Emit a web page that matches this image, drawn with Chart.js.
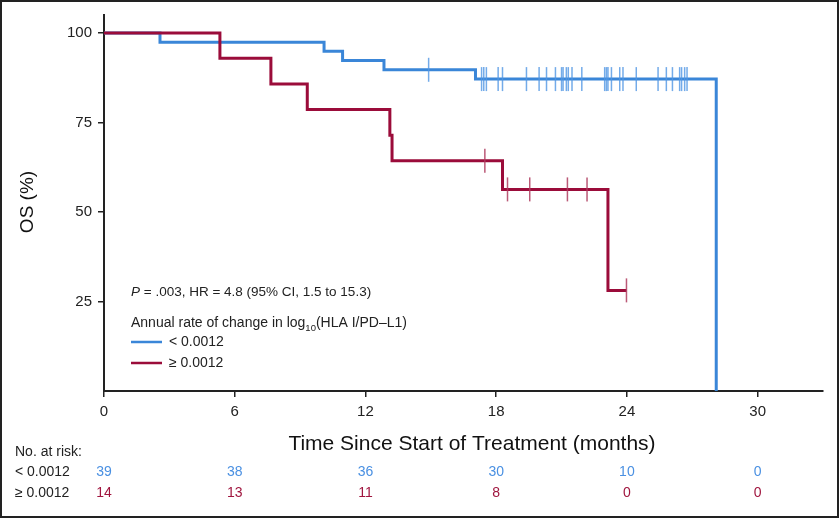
<!DOCTYPE html>
<html>
<head>
<meta charset="utf-8">
<script src="https://cdn.jsdelivr.net/npm/chart.js@4.4.0/dist/chart.umd.min.js"></script>
<style>
  html, body { margin: 0; padding: 0; background: #fff; }
  canvas { display: block; }
</style>
</head>
<body>
<canvas id="km-chart" width="839" height="518"></canvas>
<script>
// Kaplan-Meier steps: event time (months) and OS (%) after that event
const lowTimes = [0, 2.57, 10.1, 10.95, 12.85, 17.05, 28.1];
const lowSurv = [100, 97.4, 94.9, 92.3, 89.7, 87.1, 0];
const lowCensor = [14.9, 17.33, 17.43, 17.55, 18.09, 18.29, 19.39, 19.97, 20.31, 20.72,
  21.0, 21.07, 21.22, 21.31, 21.48, 21.93, 22.98, 23.06, 23.13, 23.29, 23.67, 23.82,
  24.43, 25.43, 25.81, 26.09, 26.42, 26.51, 26.65, 26.76];

const highTimes = [0, 5.32, 7.66, 9.33, 13.12, 13.22, 18.29, 23.13, 23.98];
const highSurv = [100, 92.9, 85.7, 78.6, 71.4, 64.3, 56.3, 28.1, 28.1];
const highCensor = [17.48, 18.52, 19.54, 21.27, 22.17, 23.98];

// number at risk table
const riskTimes = [0, 6, 12, 18, 24, 30];
const lowRisk = [39, 38, 36, 30, 10, 0];
const highRisk = [14, 13, 11, 8, 0, 0];

const xTicks = [0, 6, 12, 18, 24, 30];
const yTicks = [25, 50, 75, 100];

const BLUE = "#3a86d8";
const RED = "#9b0c3a";
const FONT = "'Liberation Sans', Arial, Helvetica, sans-serif";

// level of a step curve at time t (used to put censor ticks on the curve)
function levelAt(times, surv, t) {
  let v = surv[0];
  for (let i = 0; i < times.length; i++) {
    if (times[i] <= t) v = surv[i];
  }
  return v;
}

const toPoints = (times, surv) => times.map((t, i) => ({ x: t, y: surv[i] }));
const censorPoints = (times, surv, cens) =>
  cens.map((t) => ({ x: t, y: levelAt(times, surv, t) }));

const extras = {
  id: "extras",
  beforeDraw(chart) {
    const ctx = chart.ctx;
    ctx.save();
    ctx.fillStyle = "#fff";
    ctx.fillRect(0, 0, chart.width, chart.height);
    ctx.restore();
  },
  afterDraw(chart) {
    const ctx = chart.ctx;
    const xs = chart.scales.x;
    ctx.save();

    // axis titles
    ctx.fillStyle = "#111";
    ctx.textAlign = "center";
    ctx.textBaseline = "alphabetic";
    ctx.font = "21px " + FONT;
    ctx.fillText("Time Since Start of Treatment (months)", 472, 450);
    ctx.textBaseline = "middle";
    ctx.save();
    ctx.translate(28, 202);
    ctx.rotate(-Math.PI / 2);
    ctx.font = "19px " + FONT;
    ctx.fillText("OS (%)", 0, 0);
    ctx.restore();

    // stats text
    ctx.textAlign = "left";
    ctx.fillStyle = "#222";
    let x = 131;
    ctx.font = "italic 13.5px " + FONT;
    ctx.fillText("P", x, 292);
    x += ctx.measureText("P").width;
    ctx.font = "13.5px " + FONT;
    ctx.fillText(" = .003, HR = 4.8 (95% CI, 1.5 to 15.3)", x, 292);

    // legend
    x = 131;
    ctx.font = "14px " + FONT;
    const t1 = "Annual rate of change in log";
    ctx.fillText(t1, x, 323);
    x += ctx.measureText(t1).width;
    ctx.font = "9.5px " + FONT;
    ctx.fillText("10", x, 328);
    x += ctx.measureText("10").width;
    ctx.font = "14px " + FONT;
    ctx.fillText("(HLA I/PD\u2013L1)", x, 323);

    ctx.lineWidth = 2.5;
    ctx.strokeStyle = BLUE;
    ctx.beginPath(); ctx.moveTo(131, 342); ctx.lineTo(162, 342); ctx.stroke();
    ctx.strokeStyle = RED;
    ctx.beginPath(); ctx.moveTo(131, 363); ctx.lineTo(162, 363); ctx.stroke();
    ctx.fillText("< 0.0012", 169, 342);
    ctx.fillText("\u2265 0.0012", 169, 363);

    // number at risk
    ctx.font = "14px " + FONT;
    ctx.fillStyle = "#222";
    ctx.fillText("No. at risk:", 15, 452);
    ctx.fillText("< 0.0012", 15, 472);
    ctx.fillText("\u2265 0.0012", 15, 493);
    ctx.textAlign = "center";
    riskTimes.forEach((t, i) => {
      const px = xs.getPixelForValue(t);
      ctx.fillStyle = "#4a90e2";
      ctx.fillText(String(lowRisk[i]), px, 472);
      ctx.fillStyle = "#a0163f";
      ctx.fillText(String(highRisk[i]), px, 493);
    });

    // frame around the figure
    ctx.strokeStyle = "#222";
    ctx.lineWidth = 2;
    ctx.strokeRect(1, 1, chart.width - 2, chart.height - 2);
    ctx.restore();
  },
};

const censorStyle = (color) => ({
  type: "line",
  showLine: false,
  pointStyle: "line",
  rotation: 90,
  pointRadius: 12,
  pointBorderWidth: 1.5,
  pointBorderColor: color,
  pointBackgroundColor: color,
  borderColor: color,
});

new Chart(document.getElementById("km-chart").getContext("2d"), {
  type: "line",
  data: {
    datasets: [
      Object.assign({ data: censorPoints(highTimes, highSurv, highCensor) }, censorStyle("rgba(175,60,95,0.85)")),
      {
        data: toPoints(highTimes, highSurv),
        stepped: true,
        borderColor: RED,
        borderWidth: 3,
        pointRadius: 0,
        fill: false,
      },
      Object.assign({ data: censorPoints(lowTimes, lowSurv, lowCensor) }, censorStyle("rgba(80,150,228,0.8)")),
      {
        data: toPoints(lowTimes, lowSurv),
        stepped: true,
        borderColor: BLUE,
        borderWidth: 3,
        pointRadius: 0,
        fill: false,
      },
    ],
  },
  options: {
    responsive: false,
    animation: false,
    layout: { padding: { top: 14, right: 16, left: 0, bottom: 0 } },
    plugins: { legend: { display: false }, tooltip: { enabled: false } },
    scales: {
      x: {
        type: "linear",
        min: 0,
        max: 33,
        afterFit: (s) => { s.height = 127; },
        afterBuildTicks: (s) => { s.ticks = xTicks.map((v) => ({ value: v })); },
        border: { display: true, color: "#222", width: 2 },
        grid: { drawOnChartArea: false, drawTicks: true, tickLength: 6, color: "#222", lineWidth: 1.5 },
        ticks: { color: "#222", font: { family: FONT, size: 15 }, padding: 6, maxRotation: 0 },
      },
      y: {
        type: "linear",
        min: 0,
        max: 105,
        afterFit: (s) => { s.width = 104; },
        afterBuildTicks: (s) => { s.ticks = yTicks.map((v) => ({ value: v })); },
        border: { display: true, color: "#222", width: 2 },
        grid: { drawOnChartArea: false, drawTicks: true, tickLength: 6, color: "#222", lineWidth: 1.5 },
        ticks: { color: "#222", font: { family: FONT, size: 15 }, padding: 6 },
      },
    },
  },
  plugins: [extras],
});
</script>
</body>
</html>
